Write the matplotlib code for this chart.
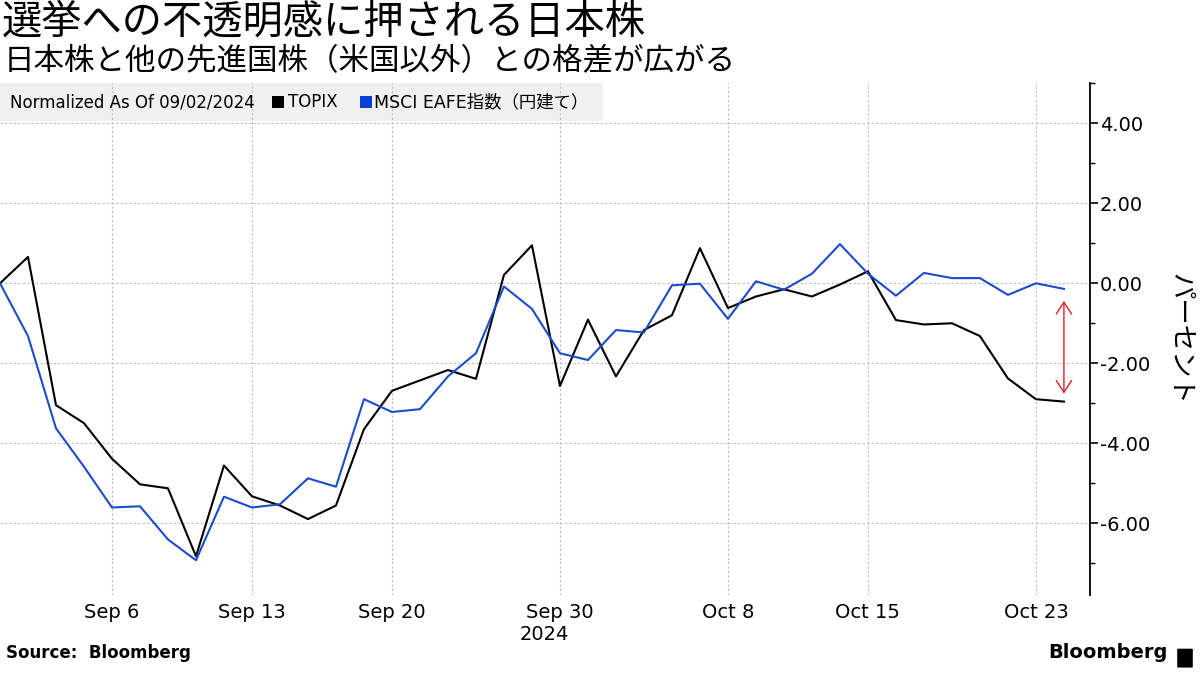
import matplotlib
matplotlib.use('Agg')
import matplotlib.pyplot as plt
from matplotlib.patches import Rectangle, FancyBboxPatch
from matplotlib.ticker import MultipleLocator, FormatStrFormatter
from matplotlib.transforms import blended_transform_factory, offset_copy
import pandas as pd

plt.rcParams['font.family'] = ['DejaVu Sans', 'Noto Sans CJK JP']

# 取引日（平日）と 09/02/2024 基準の騰落率（%）
dates = pd.bdate_range('2024-09-02', '2024-10-24')
topix = [0.00, 0.66, -3.05, -3.50, -4.39, -5.03, -5.13, -6.83, -4.56, -5.33,
         -5.56, -5.90, -5.56, -3.65, -2.69, -2.43, -2.17, -2.39, 0.21, 0.95,
         -2.57, -0.91, -2.33, -1.17, -0.80, 0.88, -0.62, -0.33, -0.15, -0.33,
         -0.03, 0.30, -0.92, -1.03, -1.00, -1.32, -2.38, -2.90, -2.96]
eafe = [0.00, -1.32, -3.63, -4.59, -5.61, -5.58, -6.41, -6.93, -5.34, -5.61,
        -5.53, -4.88, -5.09, -2.90, -3.22, -3.15, -2.33, -1.75, -0.08, -0.64,
        -1.75, -1.92, -1.17, -1.23, -0.05, -0.01, -0.89, 0.05, -0.16, 0.24,
        0.98, 0.24, -0.31, 0.26, 0.13, 0.13, -0.29, 0.00, -0.14]
tick_dates = ['2024-09-06', '2024-09-13', '2024-09-20', '2024-09-30',
              '2024-10-08', '2024-10-15', '2024-10-23']

BLACK = '#000000'
BLUE = '#1b4cc9'
RED = '#e0202a'

x = list(range(len(dates)))
tick_pos = [dates.get_loc(pd.Timestamp(d)) for d in tick_dates]
tick_lbl = [pd.Timestamp(d).strftime('%b ') + str(pd.Timestamp(d).day) for d in tick_dates]

fig = plt.figure(figsize=(12, 6.75), dpi=100)
ax = fig.add_axes([0.0, 0.1185, 0.9083, 0.7578])

ax.plot(x, topix, color=BLACK, lw=1.5, zorder=3)
ax.plot(x, eafe, color=BLUE, lw=1.5, zorder=3)

ax.set_xlim(0, 38.93)
ax.set_ylim(-7.8, 5.0)

# 格差を示す矢印
ax.annotate('', xy=(x[-1], topix[-1] + 0.2), xytext=(x[-1], eafe[-1] - 0.3),
            arrowprops=dict(arrowstyle='<->,head_length=0.85,head_width=0.55',
                            color=RED, lw=1.0, shrinkA=0, shrinkB=0,
                            mutation_scale=10), zorder=4)

# axes
for s in ['top', 'left', 'bottom']:
    ax.spines[s].set_visible(False)
ax.spines['right'].set_linewidth(1.3)
ax.yaxis.tick_right()
ax.yaxis.set_label_position('right')
ax.yaxis.set_major_locator(MultipleLocator(2))
ax.yaxis.set_minor_locator(MultipleLocator(1))
ax.yaxis.set_major_formatter(FormatStrFormatter('%.2f'))
ax.tick_params(axis='y', which='major', length=6, width=1.2, pad=1, labelsize=14)
ax.tick_params(axis='y', which='minor', length=3.5, width=1.0)
ax.set_xticks(tick_pos)
ax.set_xticklabels(tick_lbl)
ax.tick_params(axis='x', length=0, pad=6, labelsize=14)
ax.set_ylabel('パーセント', rotation=270, fontsize=19, labelpad=31,
              family=['Noto Sans CJK JP'])

ax.set_axisbelow(True)
ax.grid(True, which='major', color='#bdbdbd', lw=0.8, linestyle=(0, (2, 2)))

trans = blended_transform_factory(ax.transData, ax.transAxes)
ax.text(tick_pos[3], 0, '2024', transform=offset_copy(trans, fig=fig, x=-11, y=-21.5, units='points'),
        ha='center', va='top', fontsize=14)

# legend strip
W, H = 1090.0, 511.5
ax.add_patch(Rectangle((0, 1 - 38 / H), 603 / W, 38 / H, transform=ax.transAxes,
                       facecolor='#f0f0f0', edgecolor='none', zorder=0.2))
ly = 1 - 19 / H
ax.text(10 / W, ly, 'Normalized As Of 09/02/2024', transform=ax.transAxes,
        ha='left', va='center', fontsize=12, zorder=5)
ax.add_patch(Rectangle((272 / W, ly - 6 / H), 12 / W, 12 / H, transform=ax.transAxes,
                       facecolor=BLACK, edgecolor='none', zorder=5))
ax.text(288 / W, ly, 'TOPIX', transform=ax.transAxes,
        ha='left', va='center', fontsize=12, zorder=5)
ax.add_patch(Rectangle((360 / W, ly - 6 / H), 12 / W, 12 / H, transform=ax.transAxes,
                       facecolor='#0a3fd8', edgecolor='none', zorder=5))
ax.text(374 / W, ly, 'MSCI EAFE指数（円建て）', transform=ax.transAxes,
        ha='left', va='center', fontsize=12.5, zorder=5)

# titles
fig.text(0.001, 0.967, '選挙への不透明感に押される日本株', fontsize=29,
         family=['Noto Sans CJK JP'], ha='left', va='center')
fig.text(0.003, 0.909, '日本株と他の先進国株（米国以外）との格差が広がる', fontsize=22,
         family=['Noto Sans CJK JP'], ha='left', va='center')

# footer
fig.text(0.005, 0.019, 'Source:  Bloomberg', fontsize=12, fontweight='bold',
         ha='left', va='bottom')
fig.text(0.973, 0.019, 'Bloomberg', fontsize=14, fontweight='bold',
         ha='right', va='bottom')
fig.patches.append(FancyBboxPatch((0.982, 0.012), 0.011, 0.026,
                                  boxstyle='round,pad=0.001', transform=fig.transFigure,
                                  facecolor='#000000', edgecolor='none'))

fig.savefig('out.png', dpi=100)
